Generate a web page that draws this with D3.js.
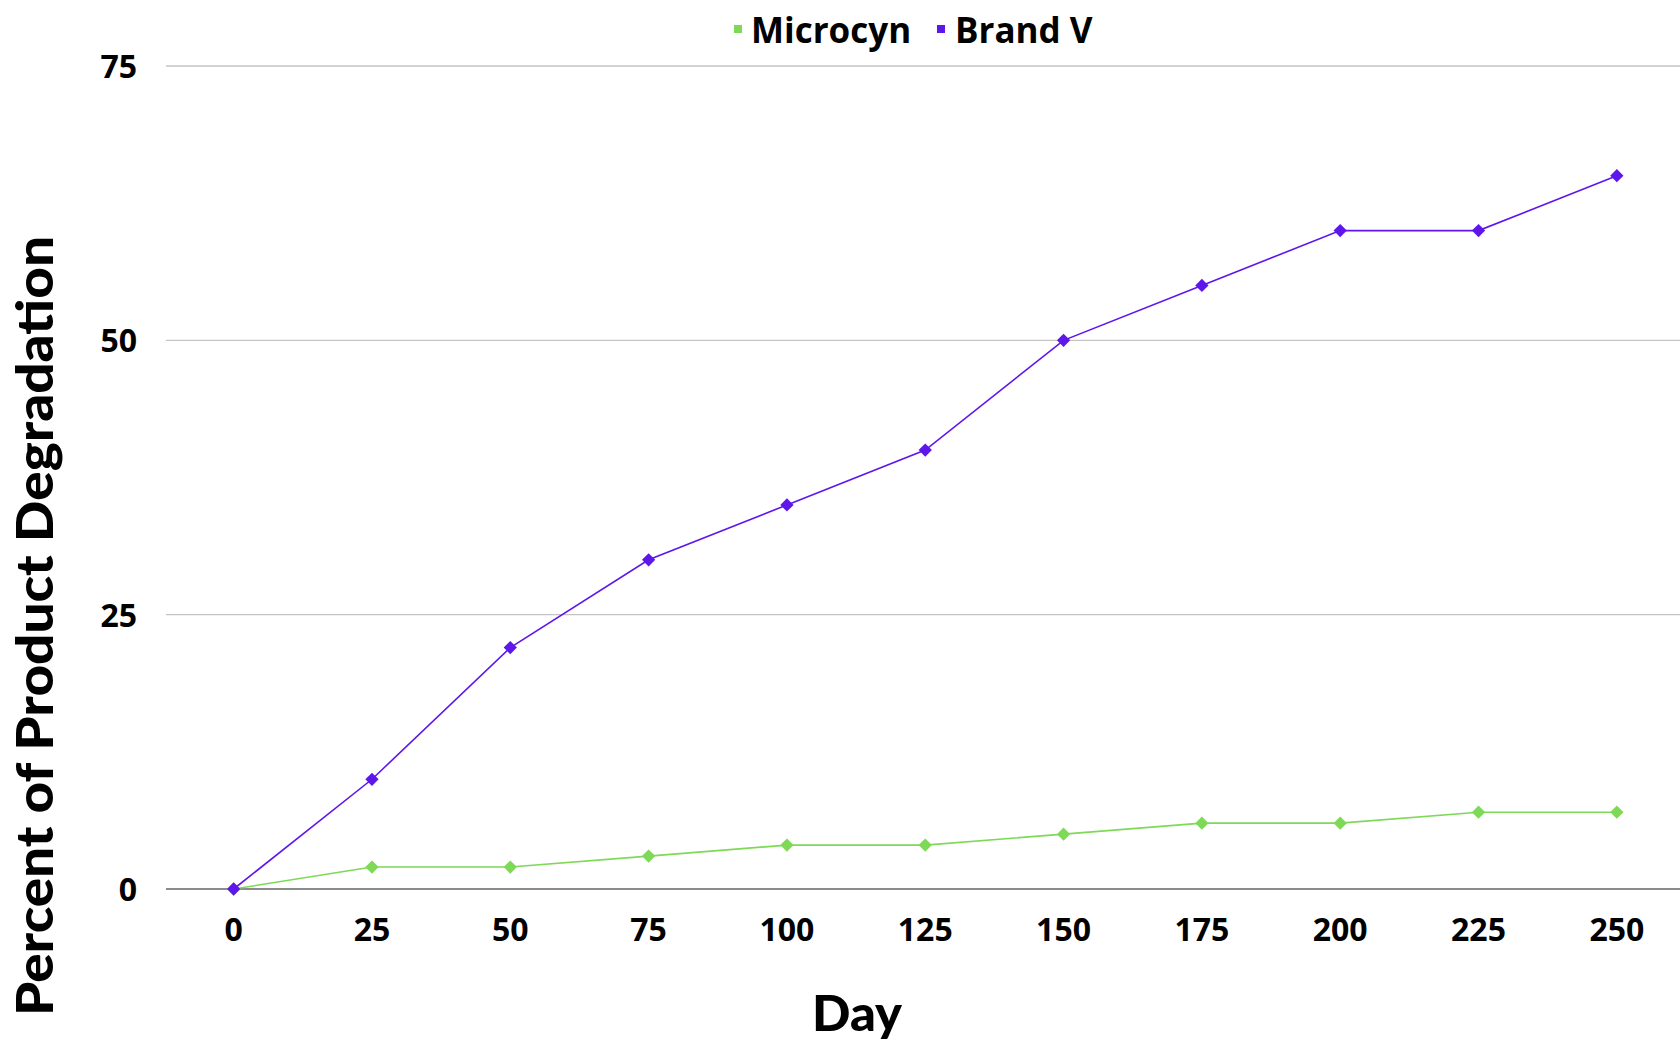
<!DOCTYPE html>
<html><head><meta charset="utf-8">
<script src="https://cdn.jsdelivr.net/npm/d3@7"></script>
<style>
html,body{margin:0;padding:0;background:#fff;}
svg{display:block;}
</style></head>
<body>
<svg id="chart" width="1680" height="1043"></svg>
<script>
const days = [0, 25, 50, 75, 100, 125, 150, 175, 200, 225, 250];
const microcyn = [0, 2, 2, 3, 4, 4, 5, 6, 6, 7, 7];
const brandV = [0, 10, 22, 30, 35, 40, 50, 55, 60, 60, 65];
const yTicks = [0, 25, 50, 75];
const seriesNames = ["Microcyn", "Brand V"];
const seriesColors = ["#7ed957", "#5e17eb"];

const svg = d3.select("#chart");
const W = 1680, H = 1043;
const plotLeft = 166;

const x = d3.scaleBand().domain(days).range([164.5, 1686]).padding(0);
const y = d3.scaleLinear().domain([0, 75]).range([889, 66]);

// gridlines
svg.append("g").selectAll("line").data(yTicks.filter(d => d !== 0)).join("line")
  .attr("x1", plotLeft).attr("x2", W).attr("y1", d => y(d)).attr("y2", d => y(d))
  .attr("stroke", "#c4c4c4").attr("stroke-width", 1.3);

// y tick labels
svg.append("g").selectAll("text").data(yTicks).join("text")
  .attr("x", 137).attr("y", d => y(d) + 12)
  .attr("text-anchor", "end")
  .style("font-family", "'Open Sans', sans-serif").style("font-weight", 700)
  .style("font-size", "32px").attr("fill", "#000")
  .text(d => d);

// zero axis line
svg.append("line").attr("x1", plotLeft).attr("x2", W).attr("y1", y(0)).attr("y2", y(0))
  .attr("stroke", "#666").attr("stroke-width", 1.5);

// x tick labels
svg.append("g").selectAll("text").data(days).join("text")
  .attr("x", d => x(d) + x.bandwidth() / 2).attr("y", 941)
  .attr("text-anchor", "middle")
  .style("font-family", "'Open Sans', sans-serif").style("font-weight", 700)
  .style("font-size", "32px").attr("fill", "#000")
  .text(d => d);

const cx = d => x(d) + x.bandwidth() / 2;
const series = [microcyn, brandV];
const line = d3.line().x((v, i) => cx(days[i])).y(v => y(v));
const sym = d3.symbol().type(d3.symbolSquare).size(88);

series.forEach((vals, si) => {
  svg.append("path").datum(vals).attr("d", line)
    .attr("fill", "none").attr("stroke", seriesColors[si]).attr("stroke-width", 1.6);
  svg.append("g").selectAll("path").data(vals).join("path")
    .attr("d", sym)
    .attr("transform", (v, i) => `translate(${cx(days[i])},${y(v)}) rotate(45)`)
    .attr("fill", seriesColors[si]);
});

// legend
const legend = svg.append("g");
const legItems = [{x: 734, tx: 751}, {x: 937, tx: 955}];
seriesNames.forEach((name, i) => {
  legend.append("rect").attr("x", legItems[i].x).attr("y", 25).attr("width", 8).attr("height", 8)
    .attr("fill", seriesColors[i]);
  legend.append("text").attr("x", legItems[i].tx).attr("y", 43)
    .style("font-family", "'Open Sans', sans-serif").style("font-weight", 700)
    .style("font-size", "35px").attr("fill", "#000").text(name);
});

// axis titles
svg.append("text").attr("x", 857).attr("y", 1031).attr("text-anchor", "middle")
  .style("font-family", "Lato, sans-serif").style("font-weight", 900)
  .style("font-size", "50px").attr("fill", "#000")
  .attr("textLength", 90).attr("lengthAdjust", "spacingAndGlyphs")
  .text("Day");

svg.append("text").attr("transform", "translate(53,626) rotate(-90)")
  .attr("text-anchor", "middle")
  .style("font-family", "Lato, sans-serif").style("font-weight", 900)
  .style("font-size", "51px").attr("fill", "#000")
  .attr("textLength", 780).attr("lengthAdjust", "spacingAndGlyphs")
  .text("Percent of Product Degradation");
</script>
</body></html>
